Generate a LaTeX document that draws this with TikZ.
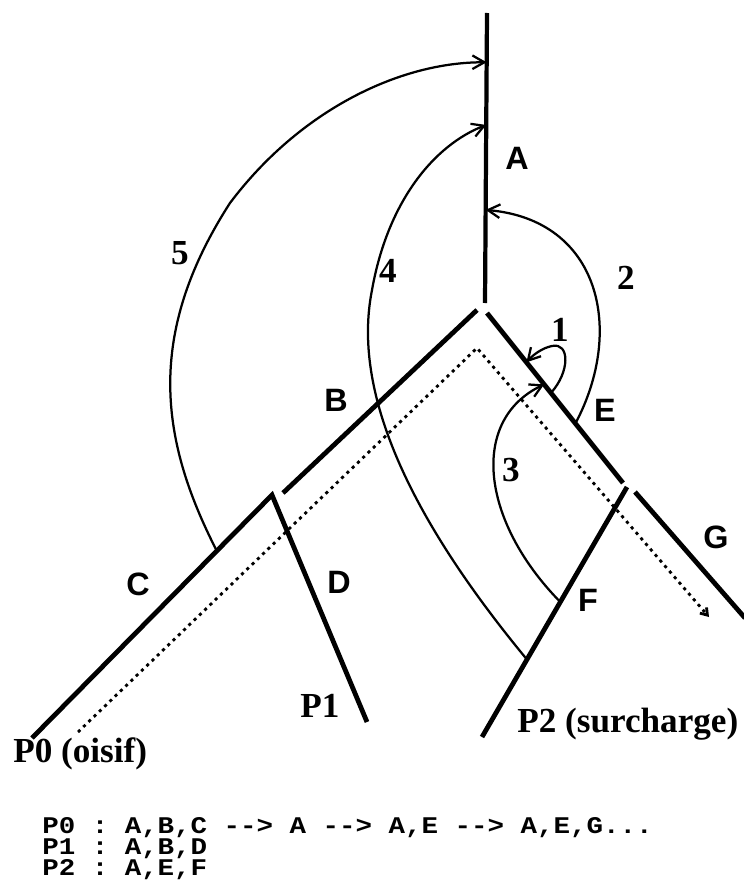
\documentclass[tikz,border=0pt]{standalone}
\usepackage{fontspec}
\setmainfont{Liberation Serif}
\setsansfont{Liberation Sans}
\setmonofont{Liberation Mono}[FakeStretch=1.15]
\usetikzlibrary{arrows.meta, calc, positioning}

\begin{document}
\begin{tikzpicture}[
        x=0.025cm, y=-0.025cm,
        branch/.style={line width=3.4pt},
        trace/.style={line width=2pt, dash pattern=on 2.2pt off 3pt},
        arrow/.style={-{Straight Barb[length=3mm, width=3.4mm]}, line width=1.6pt},
        lettre/.style={font=\sffamily\bfseries\fontsize{23}{26}\selectfont, inner sep=0pt},
        numero/.style={font=\bfseries\fontsize{25}{28}\selectfont, inner sep=0pt},
        listing/.style={font=\ttfamily\bfseries\fontsize{17}{14.9}\selectfont, inner sep=0pt, align=left}
    ]
        \useasboundingbox (0,0) rectangle (743,880);

        % arbre des segments
        \coordinate (a_top) at (487,13);
        \coordinate (a_bot) at (485,303);
        \coordinate (b_top) at (477,310);
        \coordinate (b_bot) at (283,493);
        \coordinate (e_top) at (487,313);
        \coordinate (e_bot) at (623,483);
        \coordinate (cd_top) at (272,495);
        \coordinate (c_bot) at (32,738);
        \coordinate (d_bot) at (367,722);
        \coordinate (f_top) at (627,487);
        \coordinate (f_bot) at (482,737);
        \coordinate (g_top) at (635,492);
        \coordinate (g_bot) at (745,618);

        \draw [branch, line width=3pt] (a_top) -- (a_bot);
        \draw [branch] (b_top) -- (b_bot);
        \draw [branch] (e_top) -- (e_bot);
        \draw [branch] (c_bot) -- (cd_top) -- (d_bot);
        \draw [branch] (f_top) -- (f_bot);
        \draw [branch] (g_top) -- (g_bot);

        % parcours de P0
        \coordinate (t_start) at (78,732);
        \coordinate (t_apex) at (477,348);
        \coordinate (t_end) at (709,617);
        \draw [trace, -{Straight Barb[length=1.6mm, width=2.2mm]}] (t_start) -- (t_apex) -- (t_end);

        % points de depart et d'arrivee des migrations
        \coordinate (a5) at ($(a_top)!0.17!(a_bot)$);
        \coordinate (a4) at ($(a_top)!0.386!(a_bot)$);
        \coordinate (a2) at ($(a_top)!0.679!(a_bot)$);
        \coordinate (c5) at ($(cd_top)!0.23!(c_bot)$);
        \coordinate (f4) at ($(f_top)!0.69!(f_bot)$);
        \coordinate (f3) at ($(f_top)!0.46!(f_bot)$);
        \coordinate (e3) at ($(e_top)!0.42!(e_bot)$);
        \coordinate (e2) at ($(e_top)!0.65!(e_bot)$);
        \coordinate (e1s) at ($(e_top)!0.47!(e_bot)$);
        \coordinate (e1e) at ($(e_top)!0.29!(e_bot)$);

        \draw [arrow] (e1s) .. controls (570,372) and (570,342) .. (552,346) .. controls (542,348) and (533,355) .. (e1e);
        \draw [arrow] (e2) .. controls (625,330) and (600,220) .. (a2);
        \draw [arrow] (f3) .. controls (480,520) and (470,420) .. (e3);
        \draw [arrow] (f4) .. controls (420,530) and (350,400) .. (372,290) .. controls (388,200) and (435,145) .. (a4);
        \draw [arrow] (c5) .. controls (160,440) and (145,335) .. (230,203) .. controls (300,110) and (400,62) .. (a5);

        % noms des segments
        \node (lab_a) [lettre] at (517,158) {A};
        \node (lab_b) [lettre] at (336,400) {B};
        \node (lab_c) [lettre] at (138,584) {C};
        \node (lab_d) [lettre] at (339,582) {D};
        \node (lab_e) [lettre] at (605,410) {E};
        \node (lab_f) [lettre] at (588,600) {F};
        \node (lab_g) [lettre] at (716,537) {G};

        % numeros des migrations
        \node (num1) [numero] at (560,330) {1};
        \node (num2) [numero] at (626,278) {2};
        \node (num3) [numero] at (511,470) {3};
        \node (num4) [numero] at (388,271) {4};
        \node (num5) [numero] at (180,253) {5};

        % processus
        \node (p0) [numero, anchor=base west] at (13,762) {P0 (oisif)};
        \node (p1) [numero, anchor=base west] at (300,717) {P1};
        \node (p2) [numero, anchor=base west] at (517,732) {P2 (surcharge)};

        % chemins parcourus
        \node (liste) [listing, anchor=north west] at (42,817) {P0 : A,B,C --> A --> A,E --> A,E,G...\\
            P1 : A,B,D\\
            P2 : A,E,F};
    \end{tikzpicture}
\end{document}
